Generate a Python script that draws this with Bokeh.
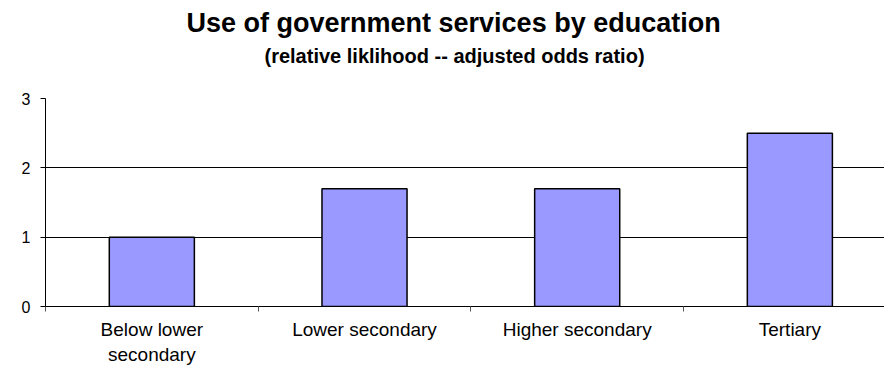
from bokeh.plotting import figure
from bokeh.models import Range1d, FixedTicker, Title, LinearAxis
from bokeh.embed import file_html
from bokeh.resources import INLINE

# ---- data ----
title_text = "Use of government services by education"
subtitle_text = "(relative liklihood -- adjusted odds ratio)"
categories = ["Below lower\nsecondary", "Lower secondary", "Higher secondary", "Tertiary"]
values = [1.0, 1.7, 1.7, 2.5]
y_ticks = [0, 1, 2, 3]

FONT = "Liberation Sans"

centers = [i + 0.5 for i in range(len(categories))]
bounds = list(range(len(categories) + 1))

p = figure(width=884, height=367, output_backend="svg", toolbar_location=None,
           x_range=Range1d(0, 3.945), y_range=Range1d(0, 3),
           x_axis_type=None, title=None,
           min_border_left=45, min_border_right=0, min_border_bottom=10, min_border_top=0)
p.outline_line_color = None
p.background_fill_color = "white"
p.border_fill_color = "white"

p.vbar(x=centers, top=values, width=0.4, bottom=0,
       fill_color="#9999FF", line_color="black", line_width=1.5)

# x axis: boundary ticks (minor), labels at centres
xaxis = LinearAxis(ticker=FixedTicker(ticks=centers, minor_ticks=bounds))
xaxis.major_label_overrides = {c: lab for c, lab in zip(centers, categories)}
xaxis.major_tick_line_color = None
xaxis.major_tick_out = 5
xaxis.major_tick_in = 0
xaxis.minor_tick_out = 5
xaxis.minor_tick_in = 0
xaxis.minor_tick_line_color = "#555555"
xaxis.axis_line_color = "black"
xaxis.major_label_standoff = 7
xaxis.major_label_text_font = FONT
xaxis.major_label_text_font_size = "19px"
xaxis.major_label_text_color = "black"
p.add_layout(xaxis, "below")

# y axis
yaxis = p.yaxis[0]
yaxis.ticker = FixedTicker(ticks=y_ticks)
yaxis.minor_tick_line_color = None
yaxis.major_tick_out = 5
yaxis.major_tick_in = 0
yaxis.axis_line_color = "black"
yaxis.major_tick_line_color = "black"
yaxis.major_label_standoff = 10
yaxis.major_label_text_font = FONT
yaxis.major_label_text_font_size = "16px"
yaxis.major_label_text_color = "black"

p.xgrid.visible = False
p.ygrid.grid_line_color = "black"
p.ygrid.grid_line_width = 1

# spacer between subtitle and plot area
p.add_layout(Title(text=" ", text_font=FONT, text_font_size="26px", standoff=0), "above")
p.add_layout(Title(text=subtitle_text, text_font=FONT, text_font_size="20px",
                   text_font_style="bold", align="left", text_color="black",
                   standoff=0, offset=219), "above")
p.add_layout(Title(text=title_text, text_font=FONT, text_font_size="27px",
                   text_font_style="bold", align="left", text_color="black",
                   standoff=10, offset=141), "above")

open("out.html", "w").write(file_html(p, INLINE))
